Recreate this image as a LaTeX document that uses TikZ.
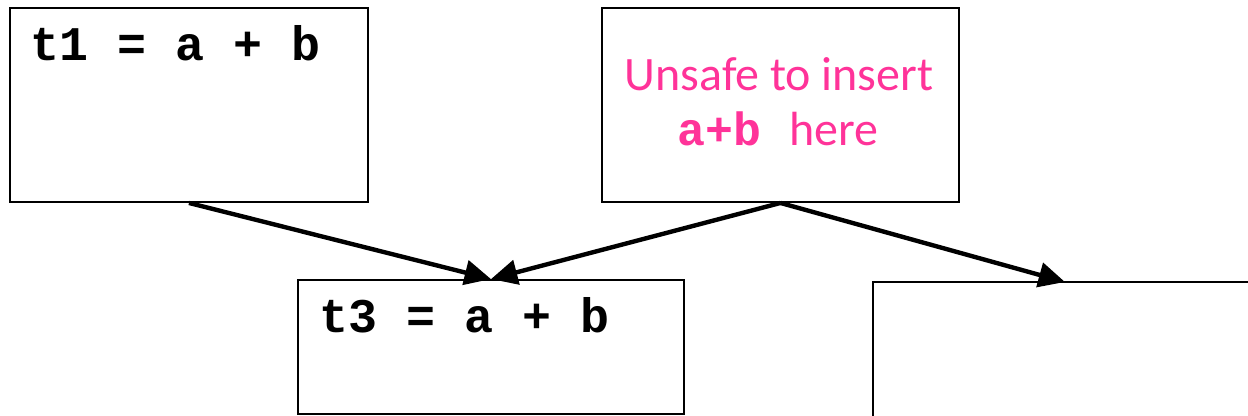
\documentclass[tikz,border=0pt]{standalone}
\usepackage{fontspec}
\setmainfont{Carlito}
\newfontfamily\codefont{Liberation Mono}
\usetikzlibrary{positioning,arrows.meta}
\definecolor{unsafepink}{RGB}{255,51,153}

\begin{document}
\begin{tikzpicture}[x=0.02cm, y=-0.02cm,
    block/.style={draw, rectangle, line width=1.1pt, inner sep=0pt},
    code/.style={font=\codefont\bfseries\fontsize{27.5}{30}\selectfont, inner sep=0pt, anchor=base west},
    note/.style={font=\fontsize{27.3}{30}\selectfont, text=unsafepink, inner sep=0pt, anchor=base},
    flow/.style={line width=2.5pt, -{Triangle[length=15pt, width=14pt]}}]

    % Page frame
    \clip (0,0) rectangle (1248,416);

    % Blocks
    \node[block, minimum width=7.16cm, minimum height=3.88cm] (boxA) at (189,105) {};
    \node[block, minimum width=7.14cm, minimum height=3.88cm] (boxB) at (780.5,105) {};
    \node[block, minimum width=7.72cm, minimum height=2.68cm] (boxC) at (491,347) {};
    \node[block, minimum width=8.54cm, minimum height=3.56cm] (boxD) at (1086.5,371) {};

    % Block contents
    \node[code] (tOne) at (30,60) {t1 = a + b};
    \node[code] (tThree) at (319,332) {t3 = a + b};
    \node[note] (noteTop) at (779,90) {Unsafe to insert};
    \node[note] (noteBot) at (778,145) {{\codefont\bfseries\fontsize{26.5}{30}\selectfont a+b }here};

    % Edges
    \coordinate (inD) at (1065,282);
    \draw[flow] (boxA.south) -- (boxC.north);
    \draw[flow] (boxB.south) -- (boxC.north);
    \draw[flow] (boxB.south) -- (inD);

\end{tikzpicture}
\end{document}
